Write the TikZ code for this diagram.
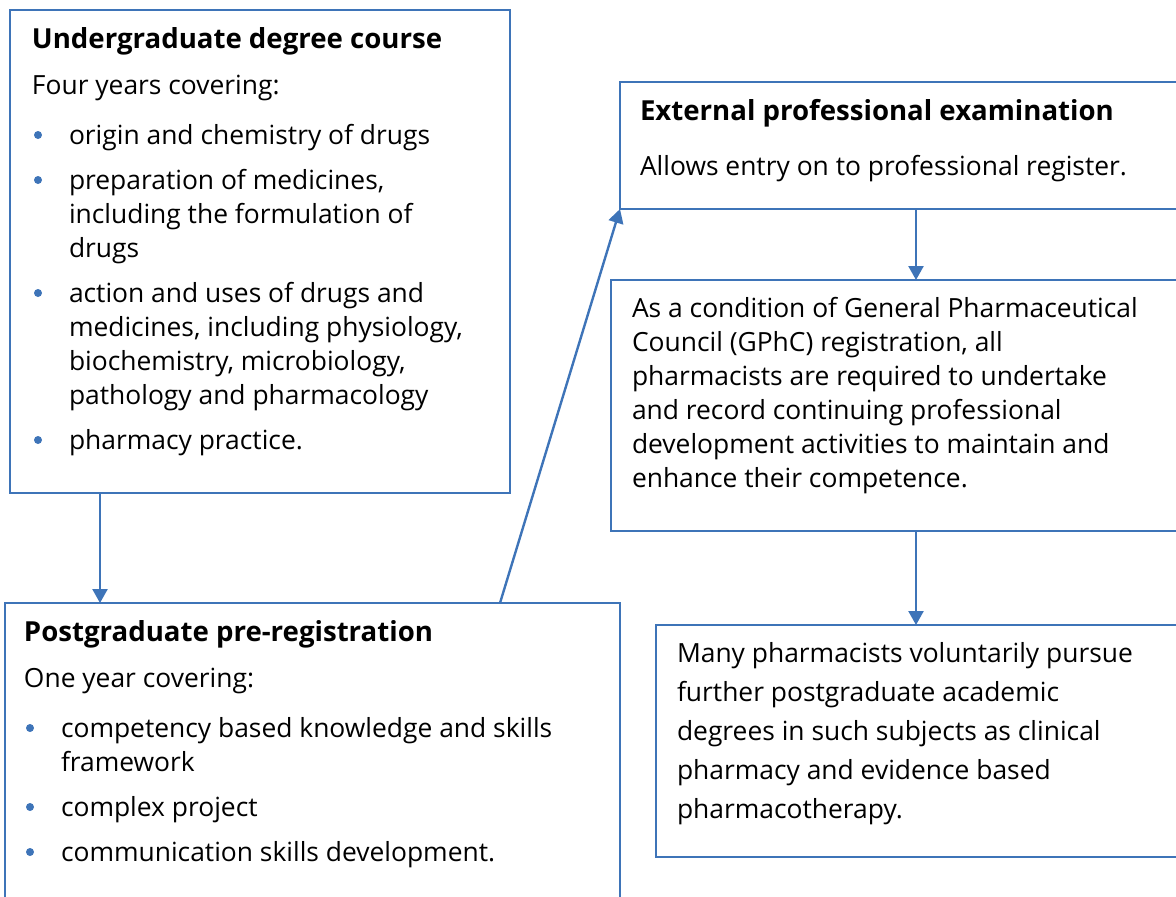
\documentclass[tikz,border=0pt]{standalone}
\usepackage{fontspec}
\setmainfont{Open Sans}
\usetikzlibrary{arrows.meta,positioning}

\definecolor{boxblue}{RGB}{62,116,184}

% bullet line with hanging indent
\newcommand{\bpt}[1]{\par\vspace{5.5pt}\hangindent=18.5pt\hangafter=1\noindent
  \makebox[18.5pt][l]{\hspace{1pt}\tikz[baseline=-4.5pt]\fill[boxblue] (0pt,0pt) circle (2pt);}#1}
\newcommand{\hd}[1]{{\fontsize{13.8pt}{17pt}\selectfont\bfseries #1}}

\begin{document}
\begin{tikzpicture}[x=0.5pt,y=-0.5pt,
	box/.style={draw=boxblue,line width=1pt,inner sep=0pt,outer sep=0pt,anchor=north west},
	txt/.style={inner sep=0pt,outer sep=0pt,anchor=base west,font=\fontsize{13.2pt}{17pt}\selectfont},
	flow/.style={draw=boxblue,line width=1.2pt,-{Triangle[length=7pt,width=7.5pt]}}]
\clip (0,0) rectangle (1176,896);

% boxes
\node[box,minimum width=250pt,minimum height=241.5pt] (ugrad) at (10,10) {};
\node[box,minimum width=307.5pt,minimum height=160pt] (pgrad) at (5,603) {};
\node[box,minimum width=290pt,minimum height=63.5pt] (exam) at (620,82) {};
\node[box,minimum width=295pt,minimum height=125.5pt] (gphc) at (611,280) {};
\node[box,minimum width=275pt,minimum height=116pt] (many) at (656,625) {};

% texts
\node[txt] (ugradtxt) at ([shift={(11pt,-19pt)}]ugrad.north west) {\begin{minipage}[t]{300pt}\raggedright
	\hd{Undergraduate degree course}\par\vspace{6pt}
	Four years covering:\par\vspace{2.5pt}
	\bpt{origin and chemistry of drugs}
	\bpt{preparation of medicines,\newline including the formulation of\newline drugs}
	\bpt{action and uses of drugs and\newline medicines, including physiology,\newline biochemistry, microbiology,\newline pathology and pharmacology}
	\bpt{pharmacy practice.}
\end{minipage}};

\node[txt] (pgradtxt) at ([shift={(9.5pt,-19pt)}]pgrad.north west) {\begin{minipage}[t]{320pt}\raggedright
	\hd{Postgraduate pre-registration}\par\vspace{6pt}
	One year covering:\par\vspace{2.5pt}
	\bpt{competency based knowledge and skills\newline framework}
	\bpt{complex project}
	\bpt{communication skills development.}
\end{minipage}};

\node[txt] (examtxt) at ([shift={(10pt,-19pt)}]exam.north west) {\begin{minipage}[t]{300pt}\raggedright
	\hd{External professional examination}\par\vspace{10.5pt}
	Allows entry on to professional register.
\end{minipage}};

\node[txt] (gphctxt) at ([shift={(10.5pt,-18.5pt)}]gphc.north west) {\begin{minipage}[t]{300pt}\raggedright
	As a condition of General Pharmaceutical\\
	Council (GPhC) registration, all\\
	pharmacists are required to undertake\\
	and record continuing professional\\
	development activities to maintain and\\
	enhance their competence.
\end{minipage}};

\node[txt,font=\fontsize{13.2pt}{19.5pt}\selectfont] (manytxt) at ([shift={(10.5pt,-18.5pt)}]many.north west) {\begin{minipage}[t]{300pt}\raggedright
	Many pharmacists voluntarily pursue\\
	further postgraduate academic\\
	degrees in such subjects as clinical\\
	pharmacy and evidence based\\
	pharmacotherapy.
\end{minipage}};

% connectors
\draw[flow] ([xshift=45pt]ugrad.south west) -- ([xshift=45pt]ugrad.south west |- pgrad.north);
\draw[flow] ([xshift=247.5pt]pgrad.north west) -- (exam.south west);
\draw[flow] ([xshift=148pt]exam.south west) -- ([xshift=148pt]exam.south west |- gphc.north);
\draw[flow] ([xshift=152.5pt]gphc.south west) -- ([xshift=152.5pt]gphc.south west |- many.north);

\end{tikzpicture}
\end{document}
